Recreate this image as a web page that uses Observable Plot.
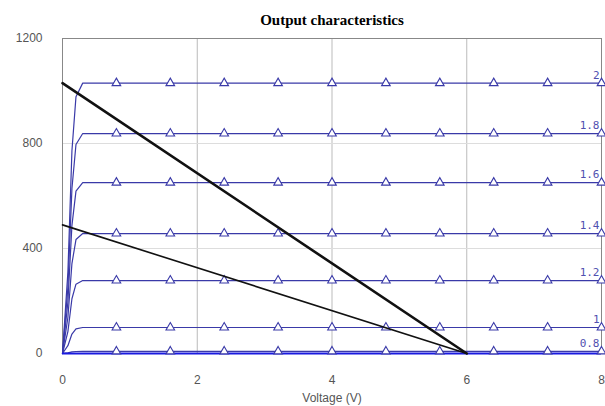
<!DOCTYPE html>
<html><head><meta charset="utf-8">
<script src="https://cdn.jsdelivr.net/npm/d3@7"></script>
<script src="https://cdn.jsdelivr.net/npm/@observablehq/plot@0.6"></script>
<style>body{margin:0;background:#fff}</style>
</head><body><div id="chart"></div>
<script>
// Gate-voltage levels and their saturation currents
const levels = ["2", "1.8", "1.6", "1.4", "1.2", "1", "0.8"];
const satCurrent = [1030, 838, 651, 457, 278, 99, 8];
// knee shape (voltage, fraction of saturation current)
const kneeV = [0, 0.08, 0.14, 0.2, 0.3, 8];
const kneeF = [0, 0.3, 0.75, 0.95, 1, 1];
// marker voltages
const markerV = [0.8, 1.6, 2.4, 3.2, 4.0, 4.8, 5.6, 6.4, 7.2, 8.0];
// load lines
const load1 = [{v: 0, i: 1030}, {v: 6, i: 0}];
const load2 = [{v: 0, i: 490}, {v: 6, i: 0}];
const xTicks = [0, 2, 4, 6, 8];
const yTicks = [0, 400, 800, 1200];

const curves = [];
levels.forEach((l, k) => kneeV.forEach((v, j) => curves.push({level: l, v, i: satCurrent[k] * kneeF[j]})));
const markers = [];
levels.forEach((l, k) => markerV.forEach(v => markers.push({level: l, v, i: satCurrent[k]})));
const labels = levels.map((l, k) => ({level: l, v: 8, i: satCurrent[k]}));

const chart = Plot.plot({
  width: 605, height: 406,
  marginLeft: 62, marginRight: 4, marginTop: 38, marginBottom: 53,
  style: {fontFamily: "Liberation Sans, Arial, sans-serif", fontSize: "12px", color: "#555"},
  x: {domain: [0, 8], ticks: xTicks, tickSize: 0, tickPadding: 22, label: "Voltage (V)", labelAnchor: "center", labelArrow: false, labelOffset: 48},
  y: {domain: [0, 1200], ticks: yTicks, tickFormat: d => String(d), tickSize: 0, tickPadding: 20, label: null},
  marks: [
    Plot.gridX(xTicks.slice(1, -1), {stroke: "#bbb", strokeOpacity: 1}),
    Plot.gridY(yTicks.slice(1, -1), {stroke: "#ddd", strokeOpacity: 1}),
    Plot.frame({stroke: "#888"}),
    Plot.line(curves, {x: "v", y: "i", z: "level", stroke: "#3a3aa8", strokeWidth: 1.2}),
    Plot.ruleY([0], {stroke: "#1a1ae0", strokeWidth: 2}),
    Plot.dot(markers, {x: "v", y: "i", symbol: "triangle", r: 3.2, stroke: "#3a3aa8", fill: "white", strokeWidth: 1.1}),
    Plot.line(load1, {x: "v", y: "i", stroke: "#111", strokeWidth: 2.6}),
    Plot.line(load2, {x: "v", y: "i", stroke: "#111", strokeWidth: 1.6}),
    Plot.text(labels, {x: "v", y: "i", text: "level", textAnchor: "end", dx: -2, dy: -8, fill: "#5050b0", fontFamily: "DejaVu Sans Mono, monospace", fontSize: 11}),
    Plot.text(["Output characteristics"], {frameAnchor: "top", dy: -24, fontFamily: "Liberation Serif, Times New Roman, serif", fontWeight: "bold", fontSize: 15, fill: "#000"})
  ]
});
document.getElementById("chart").appendChild(chart);
</script>
</body></html>
